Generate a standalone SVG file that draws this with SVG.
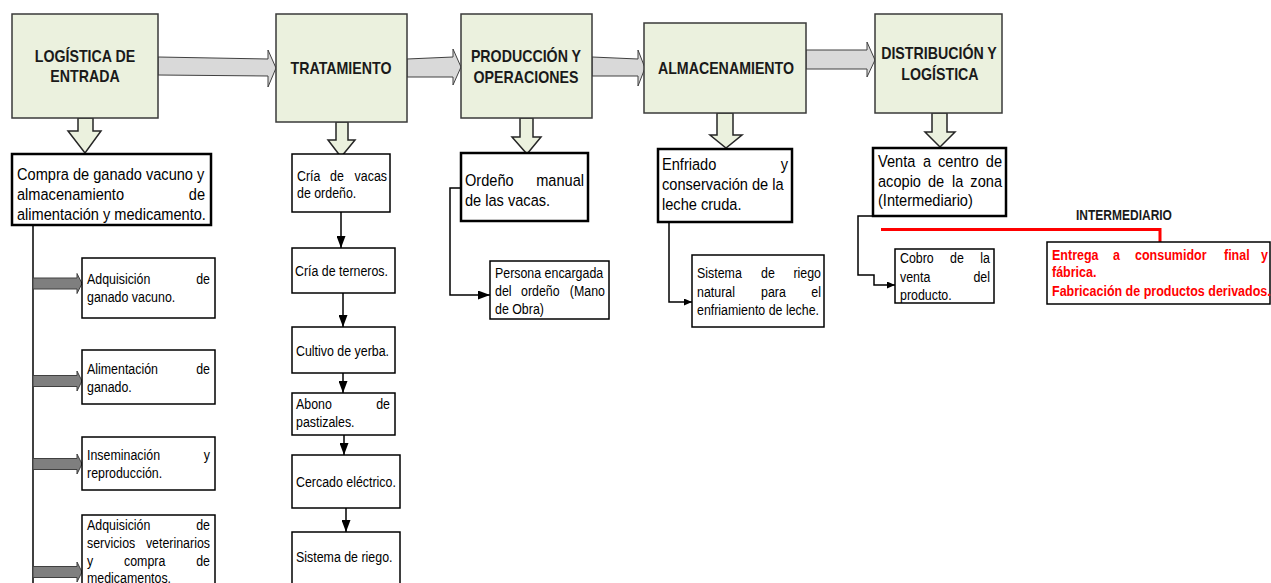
<svg xmlns="http://www.w3.org/2000/svg" width="1271" height="583" viewBox="0 0 1271 583">
<style>
.hdr{fill:#ebf1de;stroke:#3a3a3a;stroke-width:1.5}
.ht{font-family:"Liberation Sans",Arial,sans-serif;font-weight:bold;font-size:14.2px;fill:#1a1a1a;text-anchor:middle}
.b1{fill:#fff;stroke:#000;stroke-width:2.5}
.b2{fill:#fff;stroke:#000;stroke-width:1.5}
.t1{font-family:"Liberation Sans",Arial,sans-serif;font-size:14.6px;fill:#000}
.t2{font-family:"Liberation Sans",Arial,sans-serif;font-size:12.4px;fill:#000}
.r{font-family:"Liberation Sans",Arial,sans-serif;font-weight:bold;font-size:12.5px;fill:#ff0000}
.im{font-family:"Liberation Sans",Arial,sans-serif;font-weight:bold;font-size:12px;fill:#1a1a1a;text-anchor:middle}
.e{text-anchor:end}
.ga{fill:#d9d9d9;stroke:#404040;stroke-width:1}
.da{fill:#ebf1de;stroke:#262626;stroke-width:1.5}
.sa{fill:#7f7f7f;stroke:#404040;stroke-width:1}
.ln{fill:none;stroke:#000;stroke-width:1.5}
</style>
<defs>
<marker id="ah" viewBox="0 0 12 9" refX="12" refY="4.5" markerWidth="12" markerHeight="9" markerUnits="userSpaceOnUse" orient="auto"><path d="M0,0 L12,4.5 L0,9 z" fill="#000"/></marker>
<marker id="ahs" viewBox="0 0 8 7" refX="8" refY="3.5" markerWidth="8" markerHeight="7" markerUnits="userSpaceOnUse" orient="auto"><path d="M0,0 L8,3.5 L0,7 z" fill="#000"/></marker>
</defs>

<g id="connectors">
  <polygon class="ga" points="158,57 268,59 268,50 276,68 268,87 268,76 158,75"/>
  <polygon class="ga" points="407,59 453,57 453,49 461,67 453,85 453,77 407,77"/>
  <polygon class="ga" points="592,57 638,59 638,50 645,68 638,86 638,76 592,76"/>
  <polygon class="ga" points="806,50 867,50 867,42 875,60 867,77 867,69 806,69"/>
  <polygon class="da" points="78,118 93,118 93,131 101,131 85,153 68,131 78,131"/>
  <polygon class="da" points="336,122 348,122 348,140 355,140 341,157 328,140 336,140"/>
  <polygon class="da" points="520,118 533,118 533,137 541,137 527,154 512,137 520,137"/>
  <polygon class="da" points="717,113 733,113 733,135 742,135 726,148 710,135 717,135"/>
  <polygon class="da" points="932,113 947,113 947,132 955,132 940,147 925,132 932,132"/>
  <path class="ln" d="M33,225 V583"/>
  <polygon class="sa" points="33,278 77,278 77,273.5 82,283.5 77,293.5 77,289 33,289"/>
  <polygon class="sa" points="33,375.5 77,375.5 77,371 82,381 77,391 77,386.5 33,386.5"/>
  <polygon class="sa" points="33,458.5 77,458.5 77,454 82,464 77,474 77,469.5 33,469.5"/>
  <polygon class="sa" points="33,566.5 77,566.5 77,562 82,572 77,582 77,577.5 33,577.5"/>
  <line class="ln" x1="341" y1="212" x2="341" y2="248" marker-end="url(#ah)"/>
  <line class="ln" x1="343" y1="293" x2="343" y2="327" marker-end="url(#ah)"/>
  <line class="ln" x1="343" y1="373" x2="343" y2="393" marker-end="url(#ah)"/>
  <line class="ln" x1="344" y1="435" x2="344" y2="455" marker-end="url(#ah)"/>
  <line class="ln" x1="346" y1="508" x2="346" y2="532" marker-end="url(#ah)"/>
  <path class="ln" d="M461,188 H450 V295 H490" marker-end="url(#ah)"/>
  <path class="ln" d="M669,222 V302 H692" marker-end="url(#ahs)"/>
  <path class="ln" d="M873,216 H858 V275 H874 V285 H895" marker-end="url(#ahs)"/>
  <path d="M881,229.5 H1160 V242" fill="none" stroke="#ff0000" stroke-width="3"/>
</g>

<g id="n-logistica-entrada">
  <rect class="hdr" x="12" y="14" width="146" height="104"/>
  <text class="ht" transform="translate(0,62) scale(1,1.15)" x="85">LOGÍSTICA DE</text>
  <text class="ht" transform="translate(0,82) scale(1,1.15)" x="85">ENTRADA</text>
</g>
<g id="n-tratamiento">
  <rect class="hdr" x="276" y="14" width="131" height="108"/>
  <text class="ht" transform="translate(0,74) scale(1,1.15)" x="341">TRATAMIENTO</text>
</g>
<g id="n-produccion">
  <rect class="hdr" x="461" y="14" width="131" height="104"/>
  <text class="ht" transform="translate(0,62) scale(1,1.15)" x="526">PRODUCCIÓN Y</text>
  <text class="ht" transform="translate(0,83) scale(1,1.15)" x="526">OPERACIONES</text>
</g>
<g id="n-almacenamiento">
  <rect class="hdr" x="644" y="23" width="162" height="90"/>
  <text class="ht" transform="translate(0,74) scale(1,1.15)" x="726">ALMACENAMIENTO</text>
</g>
<g id="n-distribucion">
  <rect class="hdr" x="875" y="14" width="127" height="99"/>
  <text class="ht" transform="translate(0,59) scale(1,1.15)" x="939">DISTRIBUCIÓN Y</text>
  <text class="ht" transform="translate(0,80) scale(1,1.15)" x="940">LOGÍSTICA</text>
</g>

<g id="s-compra">
  <rect class="b1" x="12" y="154" width="199" height="71"/>
  <text class="t1" transform="translate(0,180) scale(1,1.15)" x="17">Compra de ganado vacuno y</text>
  <text class="t1" transform="translate(0,200) scale(1,1.15)" x="17">almacenamiento</text>
  <text class="t1 e" transform="translate(0,200) scale(1,1.15)" x="205">de</text>
  <text class="t1" transform="translate(0,220) scale(1,1.15)" x="17">alimentación y medicamento.</text>
</g>
<g id="s-adq-ganado">
  <rect class="b2" x="82" y="258" width="133" height="60"/>
  <text class="t2" transform="translate(0,284) scale(1,1.15)" x="87">Adquisición</text>
  <text class="t2 e" transform="translate(0,284) scale(1,1.15)" x="210">de</text>
  <text class="t2" transform="translate(0,302) scale(1,1.15)" x="87">ganado vacuno.</text>
</g>
<g id="s-alimentacion">
  <rect class="b2" x="82" y="350" width="133" height="54"/>
  <text class="t2" transform="translate(0,374) scale(1,1.15)" x="87">Alimentación</text>
  <text class="t2 e" transform="translate(0,374) scale(1,1.15)" x="210">de</text>
  <text class="t2" transform="translate(0,392) scale(1,1.15)" x="87">ganado.</text>
</g>
<g id="s-inseminacion">
  <rect class="b2" x="82" y="437" width="133" height="53"/>
  <text class="t2" transform="translate(0,460) scale(1,1.15)" x="87">Inseminación</text>
  <text class="t2 e" transform="translate(0,460) scale(1,1.15)" x="210">y</text>
  <text class="t2" transform="translate(0,478) scale(1,1.15)" x="87">reproducción.</text>
</g>
<g id="s-veterinarios">
  <rect class="b2" x="82" y="515" width="133" height="80"/>
  <text class="t2" transform="translate(0,530) scale(1,1.15)" x="87">Adquisición</text>
  <text class="t2 e" transform="translate(0,530) scale(1,1.15)" x="210">de</text>
  <text class="t2" transform="translate(0,548) scale(1,1.15)" x="87">servicios</text>
  <text class="t2 e" transform="translate(0,548) scale(1,1.15)" x="210">veterinarios</text>
  <text class="t2" transform="translate(0,566) scale(1,1.15)" x="87">y</text>
  <text class="t2" transform="translate(0,566) scale(1,1.15)" x="124">compra</text>
  <text class="t2 e" transform="translate(0,566) scale(1,1.15)" x="210">de</text>
  <text class="t2" transform="translate(0,583) scale(1,1.15)" x="87">medicamentos.</text>
</g>

<g id="t-cria-vacas">
  <rect class="b2" x="292" y="154" width="98" height="58"/>
  <text class="t2" transform="translate(0,181) scale(1,1.15)" x="297">Cría</text>
  <text class="t2" transform="translate(0,181) scale(1,1.15)" x="330">de</text>
  <text class="t2 e" transform="translate(0,181) scale(1,1.15)" x="387">vacas</text>
  <text class="t2" transform="translate(0,198) scale(1,1.15)" x="297">de ordeño.</text>
</g>
<g id="t-terneros">
  <rect class="b2" x="292" y="248" width="103" height="45"/>
  <text class="t2" transform="translate(0,276) scale(1,1.15)" x="295">Cría de terneros.</text>
</g>
<g id="t-yerba">
  <rect class="b2" x="292" y="327" width="103" height="46"/>
  <text class="t2" transform="translate(0,356) scale(1,1.15)" x="296">Cultivo de yerba.</text>
</g>
<g id="t-abono">
  <rect class="b2" x="292" y="393" width="103" height="42"/>
  <text class="t2" transform="translate(0,409) scale(1,1.15)" x="296">Abono</text>
  <text class="t2 e" transform="translate(0,409) scale(1,1.15)" x="390">de</text>
  <text class="t2" transform="translate(0,427) scale(1,1.15)" x="296">pastizales.</text>
</g>
<g id="t-cercado">
  <rect class="b2" x="292" y="455" width="108" height="53"/>
  <text class="t2" transform="translate(0,487) scale(1,1.15)" x="296">Cercado eléctrico.</text>
</g>
<g id="t-riego">
  <rect class="b2" x="292" y="532" width="108" height="60"/>
  <text class="t2" transform="translate(0,562) scale(1,1.15)" x="296">Sistema de riego.</text>
</g>

<g id="p-ordeno">
  <rect class="b1" x="461" y="153" width="127" height="68"/>
  <text class="t1" transform="translate(0,186) scale(1,1.15)" x="465">Ordeño</text>
  <text class="t1 e" transform="translate(0,186) scale(1,1.15)" x="584">manual</text>
  <text class="t1" transform="translate(0,206) scale(1,1.15)" x="465">de las vacas.</text>
</g>
<g id="p-persona">
  <rect class="b2" x="490" y="261" width="119" height="58"/>
  <text class="t2" transform="translate(0,278) scale(1,1.15)" x="495">Persona encargada</text>
  <text class="t2" transform="translate(0,296) scale(1,1.15)" x="495">del</text>
  <text class="t2" transform="translate(0,296) scale(1,1.15)" x="521">ordeño</text>
  <text class="t2 e" transform="translate(0,296) scale(1,1.15)" x="605">(Mano</text>
  <text class="t2" transform="translate(0,314) scale(1,1.15)" x="495">de Obra)</text>
</g>

<g id="a-enfriado">
  <rect class="b1" x="658" y="149" width="134" height="73"/>
  <text class="t1" transform="translate(0,170) scale(1,1.15)" x="662">Enfriado</text>
  <text class="t1 e" transform="translate(0,170) scale(1,1.15)" x="788">y</text>
  <text class="t1" transform="translate(0,190) scale(1,1.15)" x="662">conservación de la</text>
  <text class="t1" transform="translate(0,210) scale(1,1.15)" x="662">leche cruda.</text>
</g>
<g id="a-sistema-riego">
  <rect class="b2" x="692" y="255" width="132" height="72"/>
  <text class="t2" transform="translate(0,278) scale(1,1.15)" x="697">Sistema</text>
  <text class="t2" transform="translate(0,278) scale(1,1.15)" x="761">de</text>
  <text class="t2 e" transform="translate(0,278) scale(1,1.15)" x="821">riego</text>
  <text class="t2" transform="translate(0,297) scale(1,1.15)" x="697">natural</text>
  <text class="t2" transform="translate(0,297) scale(1,1.15)" x="761">para</text>
  <text class="t2 e" transform="translate(0,297) scale(1,1.15)" x="821">el</text>
  <text class="t2" transform="translate(0,315) scale(1,1.15)" x="697">enfriamiento de leche.</text>
</g>

<g id="d-venta">
  <rect class="b1" x="873" y="148" width="133" height="68"/>
  <text class="t1" transform="translate(0,167) scale(1,1.15)" x="878">Venta</text>
  <text class="t1" transform="translate(0,167) scale(1,1.15)" x="923">a</text>
  <text class="t1" transform="translate(0,167) scale(1,1.15)" x="938">centro</text>
  <text class="t1 e" transform="translate(0,167) scale(1,1.15)" x="1002">de</text>
  <text class="t1" transform="translate(0,187) scale(1,1.15)" x="878">acopio</text>
  <text class="t1" transform="translate(0,187) scale(1,1.15)" x="928">de</text>
  <text class="t1" transform="translate(0,187) scale(1,1.15)" x="952">la</text>
  <text class="t1 e" transform="translate(0,187) scale(1,1.15)" x="1002">zona</text>
  <text class="t1" transform="translate(0,206) scale(1,1.15)" x="878">(Intermediario)</text>
</g>
<g id="d-cobro">
  <rect class="b2" x="895" y="249" width="99" height="54"/>
  <text class="t2" transform="translate(0,263) scale(1,1.15)" x="900">Cobro</text>
  <text class="t2" transform="translate(0,263) scale(1,1.15)" x="950">de</text>
  <text class="t2 e" transform="translate(0,263) scale(1,1.15)" x="990">la</text>
  <text class="t2" transform="translate(0,282) scale(1,1.15)" x="900">venta</text>
  <text class="t2 e" transform="translate(0,282) scale(1,1.15)" x="990">del</text>
  <text class="t2" transform="translate(0,300) scale(1,1.15)" x="900">producto.</text>
</g>

<g id="intermediario-label">
  <text class="im" transform="translate(0,220) scale(1,1.15)" x="1124">INTERMEDIARIO</text>
</g>
<g id="r-entrega">
  <rect class="b2" x="1047" y="242" width="223" height="62"/>
  <text class="r" transform="translate(0,260) scale(1,1.15)" x="1052">Entrega</text>
  <text class="r" transform="translate(0,260) scale(1,1.15)" x="1113">a</text>
  <text class="r" transform="translate(0,260) scale(1,1.15)" x="1135">consumidor</text>
  <text class="r" transform="translate(0,260) scale(1,1.15)" x="1224">final</text>
  <text class="r e" transform="translate(0,260) scale(1,1.15)" x="1268">y</text>
  <text class="r" transform="translate(0,277) scale(1,1.15)" x="1052">fábrica.</text>
  <text class="r" transform="translate(0,296) scale(1,1.15)" x="1052">Fabricación de productos derivados.</text>
</g>
</svg>
